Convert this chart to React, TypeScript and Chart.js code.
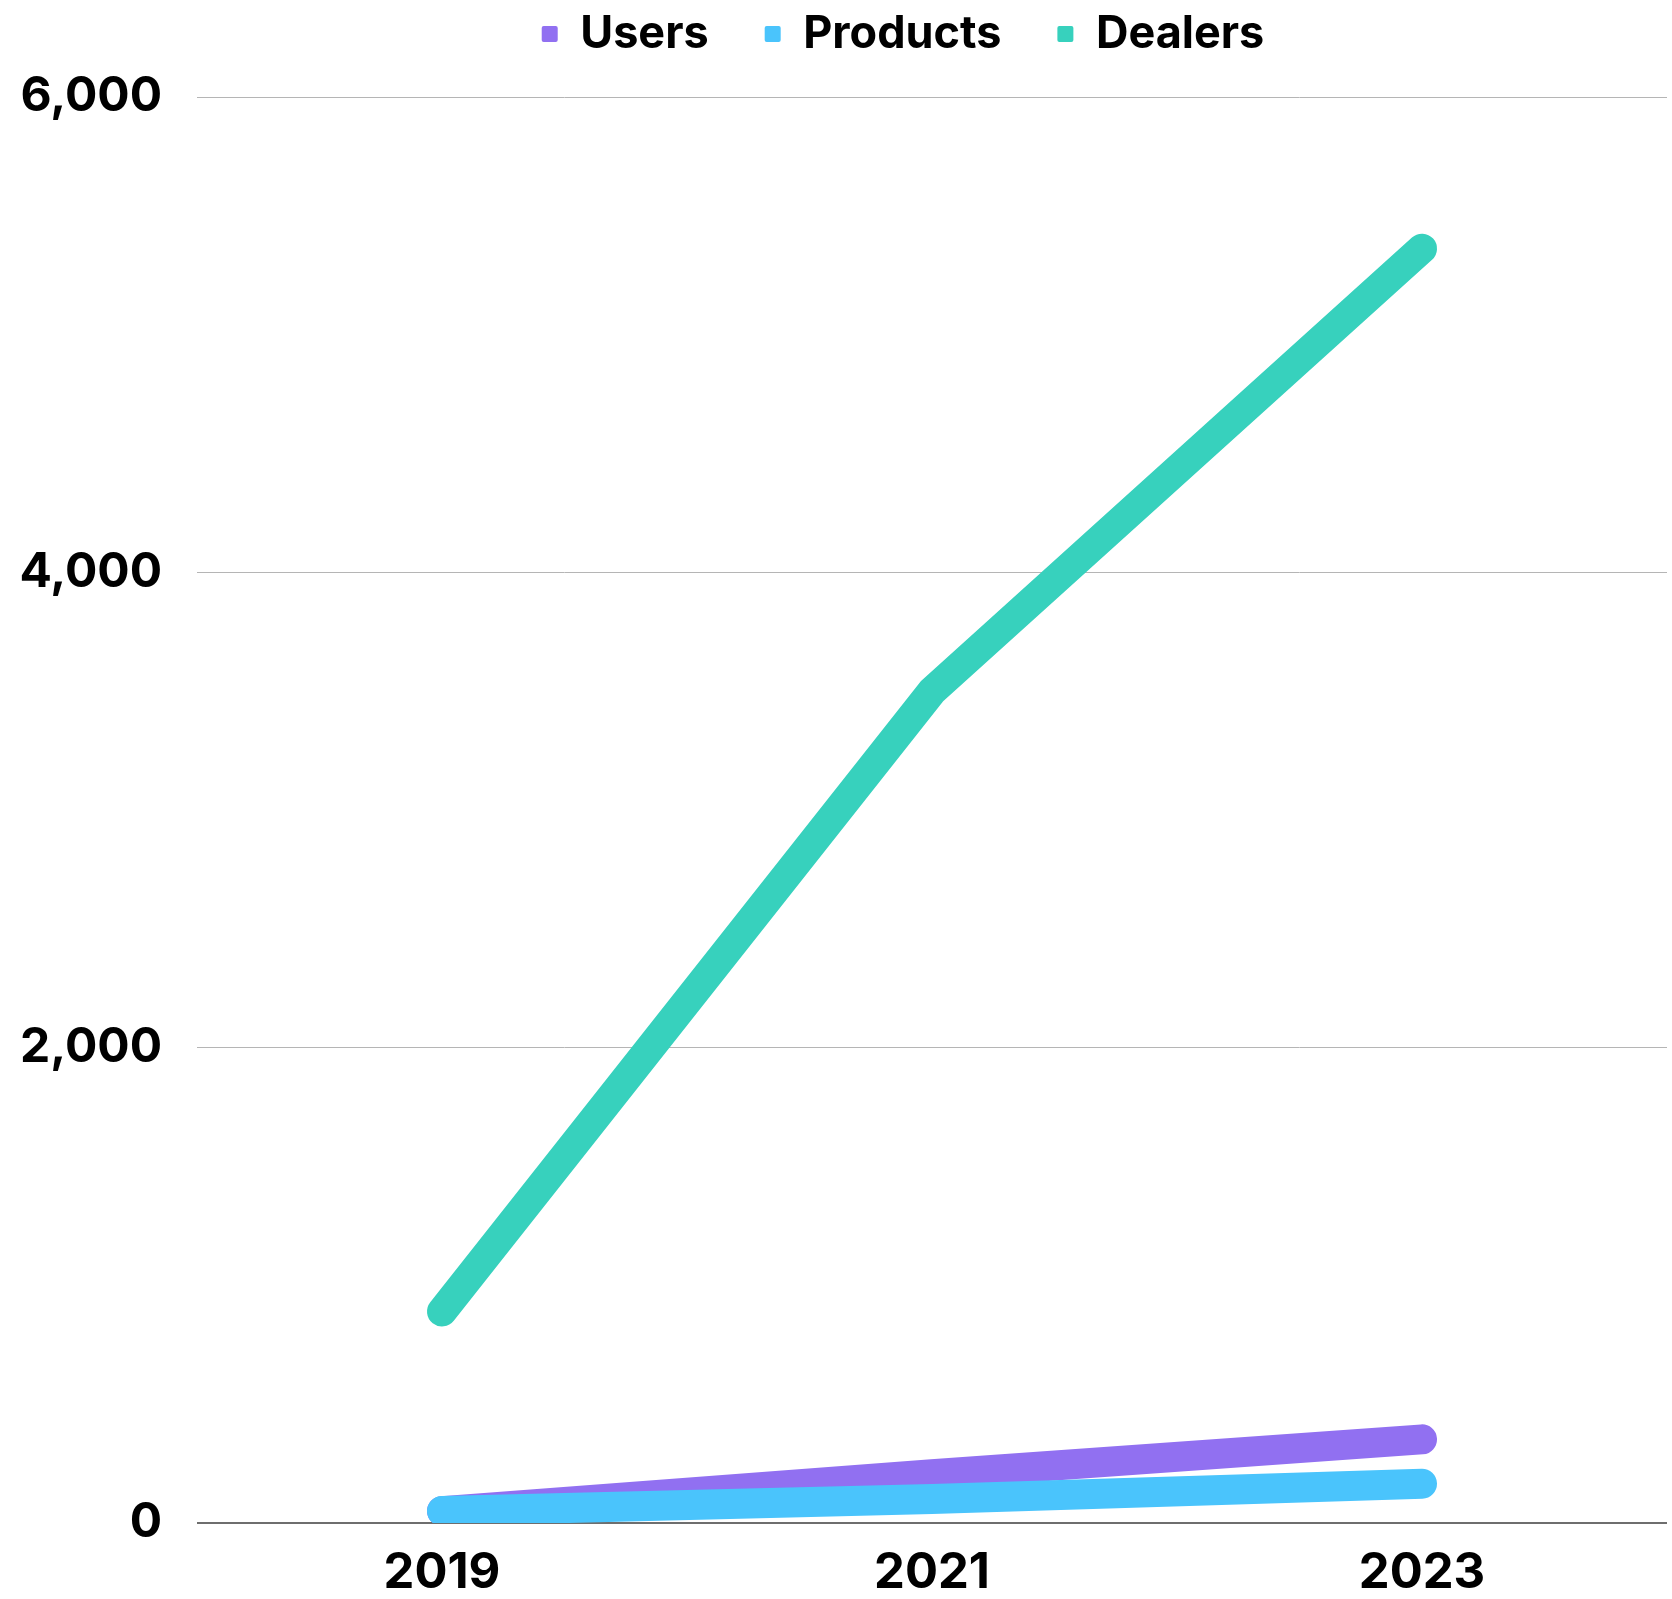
import React, { useEffect, useRef } from "react";
import { Chart, registerables } from "chart.js";

Chart.register(...registerables);

const years = ["2019", "2021", "2023"];
const users = [50, 205, 352];
const products = [50, 101, 165];
const dealers = [890, 3500, 5362];
const yTicks = [0, 2000, 4000, 6000];

const FONT = "Inter, 'Noto Sans', sans-serif";

export default function App() {
  const ref = useRef<HTMLCanvasElement | null>(null);

  useEffect(() => {
    const canvas = ref.current;
    if (!canvas) return;
    const c2d = canvas.getContext("2d")!;
    c2d.font = `bold 48px ${FONT}`;
    const widest = Math.max(...yTicks.map((v) => c2d.measureText(v.toLocaleString("en-US")).width));

    const chart = new Chart(canvas, {
      type: "line",
      data: {
        labels: years,
        datasets: [
          {
            label: "Users",
            data: users,
            borderColor: "#9170f1",
            backgroundColor: "#9170f1",
            borderWidth: 30,
            borderCapStyle: "round",
            pointRadius: 0,
            order: 3,
          },
          {
            label: "Products",
            data: products,
            borderColor: "#4ac4fc",
            backgroundColor: "#4ac4fc",
            borderWidth: 30,
            borderCapStyle: "round",
            pointRadius: 0,
            order: 2,
          },
          {
            label: "Dealers",
            data: dealers,
            borderColor: "#37d1bd",
            backgroundColor: "#37d1bd",
            borderWidth: 30,
            borderCapStyle: "round",
            pointRadius: 0,
            order: 1,
          },
        ],
      },
      options: {
        responsive: false,
        animation: false,
        devicePixelRatio: 1,
        layout: { padding: { top: -44.5, left: 139, right: 5, bottom: 0 } },
        plugins: {
          tooltip: { enabled: false },
          legend: {
            position: "top",
            labels: {
              color: "#000",
              font: { family: FONT, size: 45, weight: "bold" },
              boxWidth: 16,
              boxHeight: 16,
              padding: 56,
              useBorderRadius: true,
              borderRadius: 2,
              sort: (a: any, b: any) => a.datasetIndex - b.datasetIndex,
              generateLabels: (c: any) =>
                Chart.defaults.plugins.legend.labels
                  .generateLabels(c)
                  .map((it: any) => ({ ...it, lineWidth: 0 })),
            },
          },
          subtitle: {
            display: true,
            text: "",
            position: "top",
            weight: 500,
            font: { size: 1, lineHeight: 1 },
            padding: { top: 15, bottom: 14.5 },
          } as any,
        },
        scales: {
          x: {
            offset: true,
            grid: { display: false, drawTicks: false },
            border: { display: false },
            ticks: {
              color: "#000",
              padding: 21,
              font: { family: FONT, size: 49, weight: "bold" },
            },
            afterFit: (s: any) => {
              s.height = 76;
            },
          },
          y: {
            min: 0,
            max: 6000,
            afterBuildTicks: (s: any) => {
              s.ticks = yTicks.map((v) => ({ value: v }));
            },
            grid: {
              drawTicks: false,
              color: (ctx: any) => (ctx.tick && ctx.tick.value === 0 ? "#6e6e6e" : "#b5b5b5"),
              lineWidth: (ctx: any) => (ctx.tick && ctx.tick.value === 0 ? 2 : 1),
            },
            border: { display: false },
            ticks: {
              color: "#000",
              mirror: true,
              crossAlign: "far",
              padding: -35 - widest,
              font: { family: FONT, size: 48, weight: "bold" },
              callback: (v: any) => Number(v).toLocaleString("en-US"),
            },
            afterFit: (s: any) => {
              s.width = 58;
            },
          },
        },
      },
    });
    return () => chart.destroy();
  }, []);

  return (
    <div style={{ position: "fixed", left: 0, top: 0, width: 1672, height: 1599, background: "#fff" }}>
      <canvas ref={ref} width={1672} height={1599} style={{ width: 1672, height: 1599, display: "block" }} />
    </div>
  );
}
